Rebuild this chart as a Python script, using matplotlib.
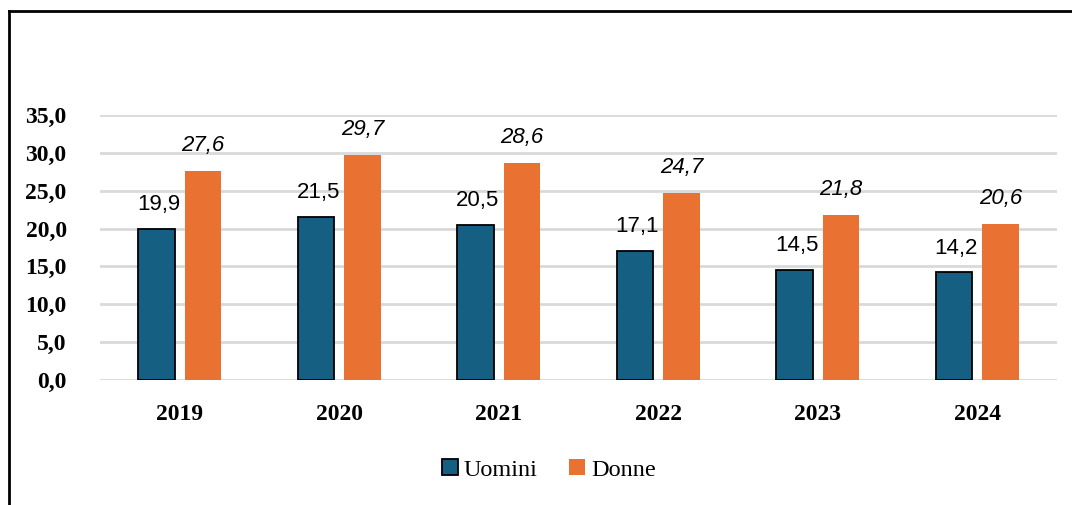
import matplotlib.pyplot as plt
import numpy as np
from matplotlib.lines import Line2D

# ─── Data ─────────────────────────────────────────────────────────────────────

YEARS = ["2019", "2020", "2021", "2022", "2023", "2024"]
UOMINI = [19.9, 21.5, 20.5, 17.1, 14.5, 14.2]
DONNE = [27.6, 29.7, 28.6, 24.7, 21.8, 20.6]
Y_TICKS = [0, 5, 10, 15, 20, 25, 30, 35]

BLUE = "#156082"
ORANGE = "#E97132"
GRID = "#D9D9D9"
SERIF = "Liberation Serif"
SANS = "Liberation Sans"


def fmt(v):
    return f"{v:.1f}".replace(".", ",")


fig = plt.figure(figsize=(10.72, 5.05), dpi=100)
ax = fig.add_axes([0.0933, 0.2475, 0.8927, 0.5248])

x = np.arange(len(YEARS))
w = 0.23
off = 0.145

b1 = ax.bar(x - off, UOMINI, w, color=BLUE, edgecolor="black", linewidth=1.3,
            zorder=3, label="Uomini")
b2 = ax.bar(x + off, DONNE, w, color=ORANGE, edgecolor="none", zorder=3,
            label="Donne")

for rect, v in zip(b1, UOMINI):
    ax.annotate(fmt(v), (rect.get_x() + rect.get_width() / 2, v),
                xytext=(1.5, 10), textcoords="offset points", ha="center",
                va="bottom", fontsize=16, family=SANS)
for rect, v in zip(b2, DONNE):
    ax.annotate(fmt(v), (rect.get_x() + rect.get_width() / 2, v),
                xytext=(0, 11), textcoords="offset points", ha="center",
                va="bottom", fontsize=16, family=SANS, style="italic")

ax.set_xlim(-0.5, len(YEARS) - 0.5)
ax.set_ylim(0, 35)
ax.set_yticks(Y_TICKS)
ax.set_yticklabels([fmt(t) for t in Y_TICKS], fontsize=17, fontweight="bold",
                   family=SERIF)
ax.set_xticks(x)
ax.set_xticklabels(YEARS, fontsize=17, fontweight="bold", family=SERIF)
ax.tick_params(axis="y", length=0, pad=24)
ax.tick_params(axis="x", length=0, pad=17)

ax.grid(axis="y", color=GRID, linewidth=2, zorder=0)
for s in ax.spines.values():
    s.set_visible(False)

ax.legend(loc="center", bbox_to_anchor=(549 / 1072, 1 - 470 / 505),
          bbox_transform=fig.transFigure, ncol=2, frameon=False,
          prop={"family": SERIF, "size": 17.5}, handlelength=0.65,
          handleheight=0.65, handletextpad=0.25, columnspacing=1.3)

# outer frame (only top and left edges are visible in the crop)
fig.add_artist(Line2D([9 / 1072, 9 / 1072], [0, 1 - 11 / 505], color="black",
                      linewidth=2, transform=fig.transFigure))
fig.add_artist(Line2D([9 / 1072, 1], [1 - 11 / 505, 1 - 11 / 505],
                      color="black", linewidth=2, transform=fig.transFigure))

fig.savefig("out.png", dpi=100)
